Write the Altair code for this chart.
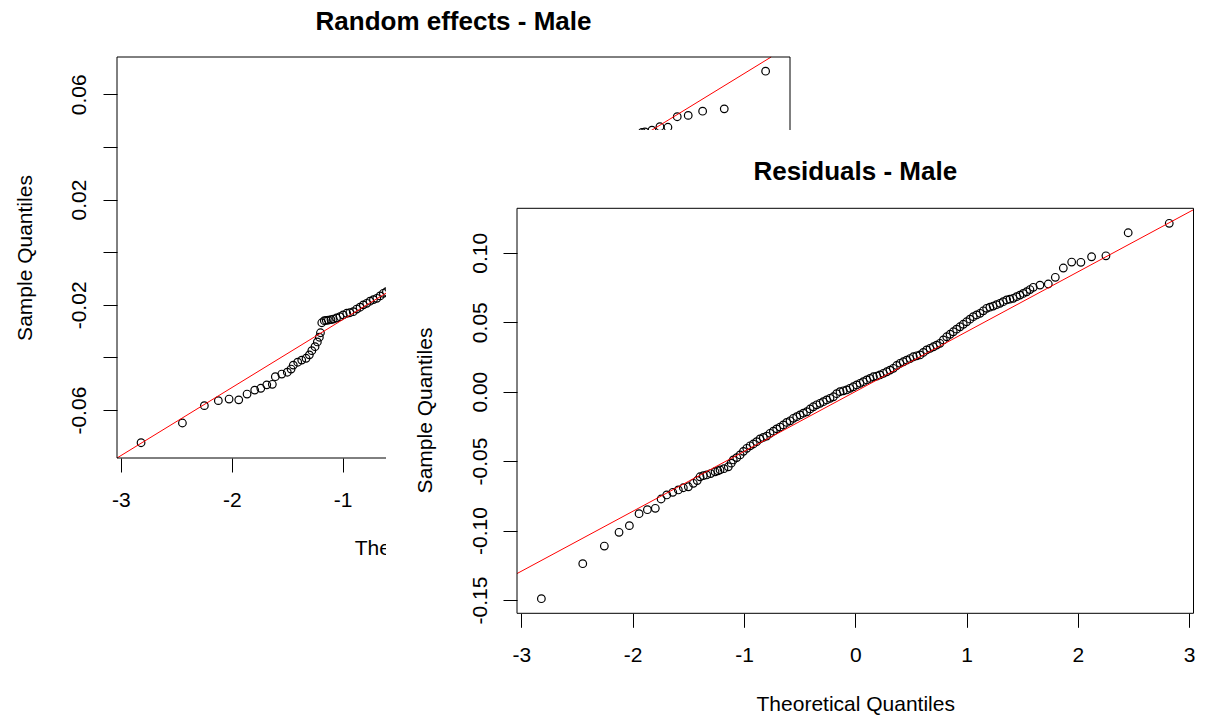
import altair as alt
import pandas as pd

FONT = "Liberation Sans"

# ---------------- data ----------------
# Random effects - Male (visible points only)
back_q = [-2.818, -2.445, -2.247, -2.121, -2.024, -1.937, -1.862, -1.793, -1.738, -1.684,
          -1.634, -1.607, -1.549, -1.499, -1.465, -1.445, -1.405, -1.369, -1.330, -1.300,
          -1.278, -1.249, -1.228, -1.210, -1.200, -1.188, -1.165, -1.147, -1.129, -1.105,
          -1.084, -1.055, -1.024, -0.995, -0.963, -0.935, -0.904, -0.873, -0.843, -0.813,
          -0.783, -0.753, -0.722, -0.692, -0.662, -0.633, -0.605, -0.575,
          1.650, 1.700, 1.727, 1.790, 1.862, 1.934, 2.018, 2.117, 2.247, 2.442, 2.815]
back_v = [-0.0724, -0.0649, -0.0583, -0.0564, -0.0558, -0.0561, -0.0539, -0.0524, -0.0517, -0.0504,
          -0.0502, -0.0473, -0.0463, -0.0456, -0.0444, -0.0429, -0.0418, -0.0410, -0.0403, -0.0390,
          -0.0374, -0.0359, -0.0341, -0.0323, -0.0306, -0.0268, -0.0260, -0.0259, -0.0258, -0.0256,
          -0.0254, -0.0250, -0.0245, -0.0238, -0.0232, -0.0230, -0.0226, -0.0216, -0.0209, -0.0200,
          -0.0194, -0.0186, -0.0180, -0.0175, -0.0166, -0.0156, -0.0150, -0.0143,
          0.0445, 0.0455, 0.0457, 0.0464, 0.0477, 0.0475, 0.0515, 0.0520, 0.0536, 0.0545, 0.0688]
back_line_q = [-3.035, 2.865]
back_line_v = [-0.0782, 0.0742]

# Residuals - Male
front_q = [-2.821, -2.449, -2.255, -2.123, -2.030, -1.943, -1.868, -1.797, -1.745, -1.694,
           -1.640, -1.590, -1.545, -1.500, -1.455, -1.420, -1.395, -1.365, -1.335, -1.300,
           -1.260, -1.235, -1.215, -1.180, -1.141, -1.115, -1.096, -1.065, -1.035, -1.005,
           -0.975, -0.945, -0.916, -0.886, -0.856, -0.826, -0.796, -0.766, -0.736, -0.706,
           -0.676, -0.646, -0.616, -0.586, -0.556, -0.526, -0.496, -0.466, -0.436, -0.406,
           -0.377, -0.347, -0.317, -0.287, -0.257, -0.227, -0.197, -0.167, -0.137, -0.107,
           -0.077, -0.048, -0.018, 0.013, 0.043, 0.073, 0.103, 0.133, 0.163, 0.193,
           0.222, 0.253, 0.283, 0.312, 0.342, 0.372, 0.402, 0.432, 0.462, 0.492,
           0.522, 0.552, 0.582, 0.612, 0.642, 0.672, 0.702, 0.731, 0.761, 0.792,
           0.822, 0.852, 0.881, 0.911, 0.941, 0.971, 1.001, 1.031, 1.061, 1.091,
           1.121, 1.151, 1.181, 1.210, 1.240, 1.270, 1.300, 1.330, 1.361, 1.390,
           1.420, 1.450, 1.480, 1.510, 1.540, 1.570, 1.600, 1.660, 1.735, 1.798,
           1.870, 1.945, 2.028, 2.124, 2.253, 2.453, 2.822]
front_v = [-0.1491, -0.1239, -0.1112, -0.1013, -0.0965, -0.0879, -0.0850, -0.0840, -0.0773, -0.0744,
           -0.0725, -0.0708, -0.0692, -0.0685, -0.0660, -0.0640, -0.0613, -0.0605, -0.0600, -0.0590,
           -0.0577, -0.0570, -0.0564, -0.0555, -0.0541, -0.0515, -0.0492, -0.0475, -0.0456, -0.0430,
           -0.0408, -0.0390, -0.0377, -0.0360, -0.0340, -0.0330, -0.0320, -0.0300, -0.0285, -0.0268,
           -0.0255, -0.0240, -0.0222, -0.0210, -0.0192, -0.0180, -0.0168, -0.0155, -0.0145, -0.0125,
           -0.0109, -0.0095, -0.0084, -0.0072, -0.0060, -0.0048, -0.0037, -0.0015, 0.0000, 0.0006,
           0.0012, 0.0024, 0.0035, 0.0048, 0.0060, 0.0072, 0.0084, 0.0095, 0.0107, 0.0112,
           0.0120, 0.0132, 0.0143, 0.0155, 0.0168, 0.0188, 0.0204, 0.0215, 0.0227, 0.0238,
           0.0251, 0.0258, 0.0264, 0.0282, 0.0300, 0.0312, 0.0323, 0.0335, 0.0348, 0.0372,
           0.0395, 0.0413, 0.0431, 0.0450, 0.0467, 0.0485, 0.0503, 0.0522, 0.0540, 0.0552,
           0.0564, 0.0582, 0.0600, 0.0608, 0.0616, 0.0626, 0.0636, 0.0648, 0.0660, 0.0666,
           0.0672, 0.0684, 0.0695, 0.0707, 0.0719, 0.0735, 0.0751, 0.0767, 0.0775, 0.0823,
           0.0890, 0.0933, 0.0931, 0.0971, 0.0978, 0.1144, 0.1212]
front_line_q = [-3.04, 3.04]
front_line_v = [-0.131, 0.131]

x_ticks = [-3, -2, -1, 0, 1, 2, 3]
back_y_ticks = [-0.06, -0.04, -0.02, 0.0, 0.02, 0.04, 0.06]
front_y_ticks = [-0.15, -0.10, -0.05, 0.0, 0.05, 0.10]

back_title = "Random effects - Male"
front_title = "Residuals - Male"
x_title = "Theoretical Quantiles"
y_title = "Sample Quantiles"

back_xdom = [-3.035, 3.035]
back_ydom = [-0.0782, 0.0742]
front_xdom = [-3.04, 3.04]
front_ydom = [-0.1596, 0.1320]

# ---------------- helpers ----------------
MINUS = "replace(datum.label, '\u2212', '-')"
PT_SIZE = 58
PT_STROKE = 1.2


def axis(orient, offset, values, fmt, pad, tx, ty, z, label_expr=MINUS, angle=0):
    kw = dict(
        orient=orient, offset=offset, values=values, format=fmt, labelExpr=label_expr,
        tickSize=14, tickColor="black", tickWidth=1, domain=False, grid=False,
        labelFont=FONT, labelFontSize=21, labelColor="black", labelPadding=pad,
        labelBaseline="middle", labelAlign="center", labelFlush=False, labelOverlap=False,
        labelAngle=angle,
        title=x_title if orient == "bottom" else y_title,
        titleFont=FONT, titleFontSize=21, titleFontWeight="normal", titleColor="black",
        titleX=tx, titleY=ty, titleAlign="center", titleBaseline="middle",
        titleAngle=0 if orient == "bottom" else 270, zindex=z,
    )
    return alt.Axis(**kw)


one = pd.DataFrame({"k": [0]})

# ---------------- back plot ----------------
bx = alt.Scale(domain=back_xdom, range=[117, 790], nice=False, zero=False)
by = alt.Scale(domain=back_ydom, range=[458, 57], nice=False, zero=False)

back_pts = alt.Chart(pd.DataFrame({"q": back_q, "v": back_v})).mark_point(
    shape="circle", filled=False, color="black", size=PT_SIZE, strokeWidth=PT_STROKE, opacity=1
).encode(
    x=alt.X("q:Q", scale=bx, axis=axis("bottom", -258, x_ticks, "d", 28, 453.5, 90, 0)),
    y=alt.Y("v:Q", scale=by, axis=axis(
        "left", -117, back_y_ticks, ".2f", 24, -92, 257.5, 0,
        label_expr="(abs(round(datum.value*100)) % 4 == 2) ? " + MINUS + " : ''", angle=270)),
)
back_line = alt.Chart(pd.DataFrame({"q": back_line_q, "v": back_line_v})).mark_line(
    color="red", strokeWidth=1
).encode(x="q:Q", y="v:Q")
back_frame = alt.Chart(one).mark_rect(filled=False, stroke="black", strokeWidth=1).encode(
    x=alt.datum(back_xdom[0]), x2=alt.datum(back_xdom[1]),
    y=alt.datum(back_ydom[0]), y2=alt.datum(back_ydom[1]),
)
back_ttl = alt.Chart(one).mark_text(
    font=FONT, fontSize=26, fontWeight="bold", color="black", baseline="middle", align="center"
).encode(x=alt.datum(0), y=alt.value(22), text=alt.value(back_title))

back = alt.layer(back_pts, back_line, back_frame, back_ttl)

# ---------------- white panel of the front figure ----------------
panel = alt.Chart(one).mark_rect(fill="white", stroke=None).encode(
    x=alt.value(386), x2=alt.value(1209), y=alt.value(130), y2=alt.value(716)
)

# ---------------- front plot ----------------
fx = alt.Scale(domain=front_xdom, range=[517, 1193.5], nice=False, zero=False)
fy = alt.Scale(domain=front_ydom, range=[613.3, 208.3], nice=False, zero=False)

front_pts = alt.Chart(pd.DataFrame({"q": front_q, "v": front_v})).mark_point(
    shape="circle", filled=False, color="black", size=PT_SIZE, strokeWidth=PT_STROKE, opacity=1
).encode(
    x=alt.X("q:Q", scale=fx, axis=axis("bottom", -102.7, x_ticks, "d", 28, 855.25, 91, 1)),
    y=alt.Y("v:Q", scale=fy, axis=axis("left", -517, front_y_ticks, ".2f", 23, -92, 410, 1,
                                       angle=270)),
)
front_line = alt.Chart(pd.DataFrame({"q": front_line_q, "v": front_line_v})).mark_line(
    color="red", strokeWidth=1
).encode(x="q:Q", y="v:Q")
front_frame = alt.Chart(one).mark_rect(filled=False, stroke="black", strokeWidth=1).encode(
    x=alt.datum(front_xdom[0]), x2=alt.datum(front_xdom[1]),
    y=alt.datum(front_ydom[0]), y2=alt.datum(front_ydom[1]),
)
front_ttl = alt.Chart(one).mark_text(
    font=FONT, fontSize=26, fontWeight="bold", color="black", baseline="middle", align="center"
).encode(x=alt.datum(0), y=alt.value(171.5), text=alt.value(front_title))

front = alt.layer(front_pts, front_line, front_frame, front_ttl)

chart = alt.layer(back, panel, front).resolve_scale(
    x="independent", y="independent"
).properties(
    width=1209, height=716, padding=0, autosize=alt.AutoSizeParams(type="none"),
    background="white",
).configure_view(strokeWidth=0)

chart.save("out.html", embed_options={"renderer": "svg", "actions": False})
